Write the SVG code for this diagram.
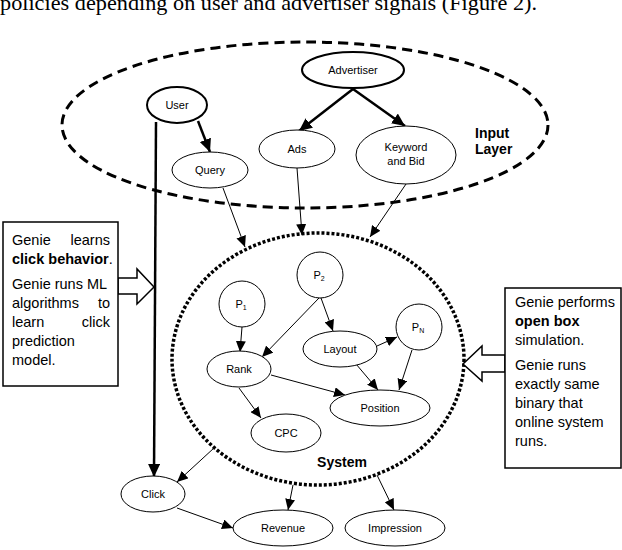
<svg xmlns="http://www.w3.org/2000/svg" width="622" height="550" viewBox="0 0 622 550">
<style>
text{font-family:"Liberation Sans","Open Sans",sans-serif;fill:#000}
.lbl{font-size:11px;text-anchor:middle}
.box{font-size:14.5px}
.b{font-weight:bold}
.n{fill:#fff;stroke:#000;stroke-width:1}
.nt{fill:#fff;stroke:#000;stroke-width:2}
.thin{stroke:#000;stroke-width:1;fill:none;marker-end:url(#ah)}
.thick{stroke:#000;stroke-width:2.5;fill:none;marker-end:url(#ahb)}
</style>
<defs>
<marker id="ah" markerUnits="userSpaceOnUse" markerWidth="12" markerHeight="10" refX="11" refY="5" orient="auto"><path d="M0,0 L11,5 L0,10 z" fill="#000"/></marker>
<marker id="ahb" markerUnits="userSpaceOnUse" markerWidth="14" markerHeight="12" refX="13" refY="6" orient="auto"><path d="M0,0 L13,6 L0,12 z" fill="#000"/></marker>
</defs>
<rect width="622" height="550" fill="#fff"/>
<text x="0" y="10" style="font-family:'Liberation Serif',serif;font-size:21px" textLength="537" lengthAdjust="spacingAndGlyphs">policies depending on user and advertiser signals (Figure 2).</text>

<g id="input-layer">
<ellipse cx="305" cy="125" rx="243" ry="83" fill="none" stroke="#000" stroke-width="3" stroke-dasharray="10 6"/>
<text class="b" x="475" y="138" style="font-size:14px">Input</text>
<text class="b" x="475" y="154" style="font-size:14px">Layer</text>
</g>
<g id="system">
<ellipse cx="318" cy="359" rx="146" ry="126" fill="none" stroke="#000" stroke-width="3.5" stroke-dasharray="3 2"/>
<text class="b" x="342" y="467" style="font-size:14px;text-anchor:middle">System</text>
</g>

<g id="connectors">
<line class="thick" x1="198" y1="121" x2="210" y2="152"/>
<line class="thick" x1="353" y1="89" x2="299" y2="131"/>
<line class="thick" x1="353" y1="89" x2="405" y2="126"/>
<line class="thick" x1="156" y1="122" x2="154" y2="477"/>
<line class="thin" x1="223" y1="188" x2="245" y2="247"/>
<line class="thin" x1="297" y1="168" x2="302" y2="235"/>
<line class="thin" x1="406" y1="184" x2="370" y2="237"/>
<line class="thin" x1="242" y1="327" x2="240" y2="352"/>
<line class="thin" x1="319" y1="298" x2="262" y2="357"/>
<line class="thin" x1="321" y1="298" x2="333" y2="331"/>
<line class="thin" x1="377" y1="346" x2="397" y2="337"/>
<line class="thin" x1="356" y1="364" x2="378" y2="390"/>
<line class="thin" x1="412" y1="350" x2="399" y2="390"/>
<line class="thin" x1="271" y1="375" x2="345" y2="395"/>
<line class="thin" x1="239" y1="388" x2="261" y2="418"/>
<line class="thin" x1="214" y1="448" x2="177" y2="482"/>
<line class="thin" x1="293" y1="485" x2="288" y2="510"/>
<line class="thin" x1="377" y1="475" x2="394" y2="510"/>
<line class="thin" x1="177" y1="508" x2="233" y2="528"/>
<polygon points="118,278 137,278 137,269 154,287 137,304 137,294 118,294" fill="#fff" stroke="#000" stroke-width="1.5"/>
<polygon points="505,355 482,355 482,346 463,364 482,381 482,372 505,372" fill="#fff" stroke="#000" stroke-width="1.5"/>
</g>

<g id="advertiser"><ellipse class="nt" cx="353" cy="70" rx="51" ry="18"/><text class="lbl" x="353" y="74">Advertiser</text></g>
<g id="user"><ellipse class="nt" cx="177" cy="105" rx="30" ry="18"/><text class="lbl" x="177" y="109">User</text></g>
<g id="query"><ellipse class="n" cx="210" cy="170" rx="38" ry="18"/><text class="lbl" x="210" y="174">Query</text></g>
<g id="ads"><ellipse class="n" cx="297" cy="149" rx="38" ry="19"/><text class="lbl" x="297" y="153">Ads</text></g>
<g id="keyword-bid"><ellipse class="n" cx="406" cy="155" rx="50" ry="29"/><text class="lbl" x="406" y="151">Keyword</text><text class="lbl" x="406" y="165">and Bid</text></g>
<g id="p1"><circle class="n" cx="242" cy="304" r="23"/><text class="lbl" x="241" y="308">P<tspan font-size="7" dy="2">1</tspan></text></g>
<g id="p2"><circle class="n" cx="320" cy="275" r="23"/><text class="lbl" x="319" y="279">P<tspan font-size="7" dy="2">2</tspan></text></g>
<g id="pn"><circle class="n" cx="419" cy="327" r="23"/><text class="lbl" x="418" y="331">P<tspan font-size="7" dy="2">N</tspan></text></g>
<g id="rank"><ellipse class="n" cx="239" cy="369" rx="32" ry="18"/><text class="lbl" x="239" y="373">Rank</text></g>
<g id="layout"><ellipse class="n" cx="340" cy="349" rx="37" ry="18"/><text class="lbl" x="340" y="353">Layout</text></g>
<g id="position"><ellipse class="n" cx="380" cy="408" rx="50" ry="18"/><text class="lbl" x="380" y="412">Position</text></g>
<g id="cpc"><ellipse class="n" cx="286" cy="433" rx="35" ry="19"/><text class="lbl" x="286" y="437">CPC</text></g>
<g id="click"><ellipse class="n" cx="153" cy="494" rx="32" ry="18"/><text class="lbl" x="153" y="498">Click</text></g>
<g id="revenue"><ellipse class="n" cx="283" cy="528" rx="50" ry="18"/><text class="lbl" x="283" y="532">Revenue</text></g>
<g id="impression"><ellipse class="n" cx="395" cy="528" rx="50" ry="18"/><text class="lbl" x="395" y="532">Impression</text></g>

<g id="left-note">
<rect x="3" y="222" width="115" height="164" fill="#fff" stroke="#000" stroke-width="1.5"/>
<text class="box" x="12" y="245">Genie</text><text class="box" x="110" y="245" text-anchor="end">learns</text>
<text class="box" x="12" y="264"><tspan class="b">click behavior</tspan>.</text>
<text class="box" x="12" y="289">Genie runs ML</text>
<text class="box" x="12" y="308">algorithms</text><text class="box" x="110" y="308" text-anchor="end">to</text>
<text class="box" x="12" y="327">learn</text><text class="box" x="110" y="327" text-anchor="end">click</text>
<text class="box" x="12" y="346">prediction</text>
<text class="box" x="12" y="365">model.</text>
</g>
<g id="right-note">
<rect x="505" y="288" width="116" height="180" fill="#fff" stroke="#000" stroke-width="1.5"/>
<text class="box" x="515" y="307">Genie performs</text>
<text class="box b" x="515" y="326">open box</text>
<text class="box" x="515" y="345">simulation.</text>
<text class="box" x="515" y="370">Genie runs</text>
<text class="box" x="515" y="389">exactly same</text>
<text class="box" x="515" y="408">binary that</text>
<text class="box" x="515" y="427">online system</text>
<text class="box" x="515" y="446">runs.</text>
</g>
</svg>
